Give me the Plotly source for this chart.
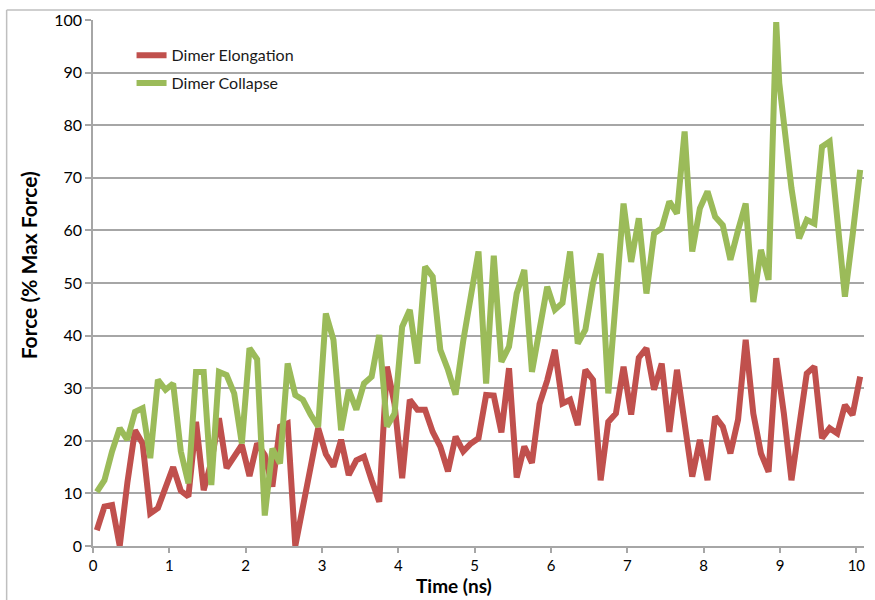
import plotly.graph_objects as go

time_ns = [0.05, 0.15, 0.25, 0.35, 0.45, 0.55, 0.65, 0.75, 0.85, 0.95,
           1.05, 1.15, 1.25, 1.35, 1.45, 1.55, 1.65, 1.75, 1.85, 1.95,
           2.05, 2.15, 2.25, 2.35, 2.45, 2.55, 2.65, 2.75, 2.85, 2.95,
           3.05, 3.15, 3.25, 3.35, 3.45, 3.55, 3.65, 3.75, 3.85, 3.95,
           4.05, 4.15, 4.25, 4.35, 4.45, 4.55, 4.65, 4.75, 4.85, 4.95,
           5.05, 5.15, 5.25, 5.35, 5.45, 5.55, 5.65, 5.75, 5.85, 5.95,
           6.05, 6.15, 6.25, 6.35, 6.45, 6.55, 6.65, 6.75, 6.85, 6.95,
           7.05, 7.15, 7.25, 7.35, 7.45, 7.55, 7.65, 7.75, 7.85, 7.95,
           8.05, 8.15, 8.25, 8.35, 8.45, 8.55, 8.65, 8.75, 8.85, 8.95, 8.99,
           9.05, 9.15, 9.25, 9.35, 9.45, 9.55, 9.65, 9.75, 9.85, 9.95, 10.05]

dimer_elongation = [3.0, 7.5, 7.8, 0.0, 12.0, 22.0, 19.5, 6.2, 7.2, 11.0,
                    15.0, 10.5, 9.4, 23.6, 10.6, 16.0, 24.3, 14.8, 17.0, 19.2,
                    13.3, 19.5, 17.3, 11.3, 22.7, 23.3, 0.0, 8.0, 16.0, 22.4,
                    17.5, 15.1, 20.2, 13.5, 16.3, 17.0, 12.5, 8.4, 34.1, 27.0,
                    12.9, 27.8, 25.9, 25.9, 21.7, 18.9, 14.2, 20.8, 18.0, 19.5,
                    20.5, 28.7, 28.6, 21.6, 33.8, 13.0, 18.9, 15.8, 27.0, 31.5,
                    37.3, 27.1, 27.8, 23.0, 33.5, 31.6, 12.5, 23.6, 25.2, 34.1,
                    25.0, 35.8, 37.6, 29.7, 34.7, 21.7, 33.5, 23.0, 13.2, 20.2,
                    12.5, 24.6, 22.7, 17.6, 24.0, 39.2, 25.2, 17.6, 14.1, 35.7, 32.0,
                    25.2, 12.5, 22.5, 32.8, 34.1, 20.5, 22.4, 21.4, 26.8, 24.9, 32.2]

dimer_collapse = [10.3, 12.5, 18.0, 22.4, 20.2, 25.5, 26.2, 16.7, 31.6, 29.7,
                  30.9, 18.0, 11.9, 33.1, 33.1, 11.6, 33.1, 32.5, 29.0, 19.5,
                  37.6, 35.5, 5.8, 18.5, 15.7, 34.7, 28.7, 27.8, 25.0, 22.7,
                  44.2, 39.2, 22.0, 29.7, 25.9, 30.9, 32.2, 40.1, 22.7, 25.2,
                  41.7, 44.9, 34.7, 53.1, 51.2, 37.3, 33.5, 28.8, 39.0, 47.0,
                  56.0, 30.9, 55.2, 35.0, 37.9, 48.0, 52.5, 33.1, 41.0, 49.3,
                  44.9, 46.2, 56.0, 38.5, 41.1, 50.0, 55.6, 29.0, 47.0, 65.1,
                  54.0, 62.3, 48.0, 59.4, 60.4, 65.5, 63.2, 78.8, 56.0, 64.2,
                  67.4, 62.6, 61.0, 54.4, 60.0, 65.1, 46.4, 56.3, 50.6, 99.6, 88.0,
                  80.0, 68.0, 58.5, 62.0, 61.3, 75.9, 76.9, 62.0, 47.4, 59.0, 71.5]

x_ticks = [0, 1, 2, 3, 4, 5, 6, 7, 8, 9, 10]
y_ticks = [0, 10, 20, 30, 40, 50, 60, 70, 80, 90, 100]

FONT = "Lato, 'Open Sans', sans-serif"
RED = "#C0504D"
GREEN = "#9BBB59"
GRID = "#A6A6A6"

fig = go.Figure()
fig.add_trace(go.Scatter(x=time_ns, y=dimer_elongation, mode="lines",
                         name="Dimer Elongation",
                         line=dict(color=RED, width=6), legend="legend"))
fig.add_trace(go.Scatter(x=time_ns, y=dimer_collapse, mode="lines",
                         name="Dimer Collapse",
                         line=dict(color=GREEN, width=6), legend="legend2"))

legend_common = dict(bgcolor="rgba(0,0,0,0)", font=dict(family=FONT, size=16, color="#1a1a1a"),
                     xanchor="left", yanchor="middle", itemwidth=30,
                     borderwidth=0, indentation=0)

fig.update_layout(
    width=875, height=600,
    margin=dict(l=93, r=11, t=20, b=54),
    paper_bgcolor="white", plot_bgcolor="white",
    font=dict(family=FONT, size=15, color="#000"),
    showlegend=True,
    legend=dict(x=0.050, y=0.933, **legend_common),
    legend2=dict(x=0.050, y=0.880, **legend_common),
    xaxis=dict(range=[0, 10.1], tickvals=x_ticks, ticktext=[str(v) for v in x_ticks],
               showgrid=False, zeroline=False, showline=True, linecolor=GRID, linewidth=1.5,
               ticks="outside", ticklen=5, tickcolor=GRID, tickwidth=1.5,
               tickfont=dict(family=FONT, size=15, color="#000")),
    yaxis=dict(range=[0, 100], tickvals=y_ticks, ticktext=[str(v) for v in y_ticks],
               showgrid=True, gridcolor=GRID, gridwidth=1.5, zeroline=False,
               showline=True, linecolor=GRID, linewidth=1.5,
               ticks="outside", ticklen=6, tickcolor=GRID, tickwidth=1.5,
               tickfont=dict(family=FONT, size=16, color="#000")),
    annotations=[
        dict(text="<b>Time (ns)</b>", xref="paper", yref="paper", x=0.468, y=-0.1015,
             xanchor="center", yanchor="bottom", showarrow=False,
             font=dict(family=FONT, size=19, color="#000")),
        dict(text="<b>Force (% Max Force)</b>", xref="paper", yref="paper", x=-0.084, y=0.534,
             xanchor="center", yanchor="middle", showarrow=False, textangle=-90,
             font=dict(family=FONT, size=21, color="#000")),
    ],
    shapes=[
        dict(type="line", xref="paper", yref="paper", x0=-0.112, x1=1.02, y0=1.019, y1=1.019,
             line=dict(color="#BFBFBF", width=1.5)),
        dict(type="line", xref="paper", yref="paper", x0=-0.112, x1=-0.112, y0=-0.11, y1=1.019,
             line=dict(color="#BFBFBF", width=1.5)),
    ],
)

fig.write_html("out.html")
